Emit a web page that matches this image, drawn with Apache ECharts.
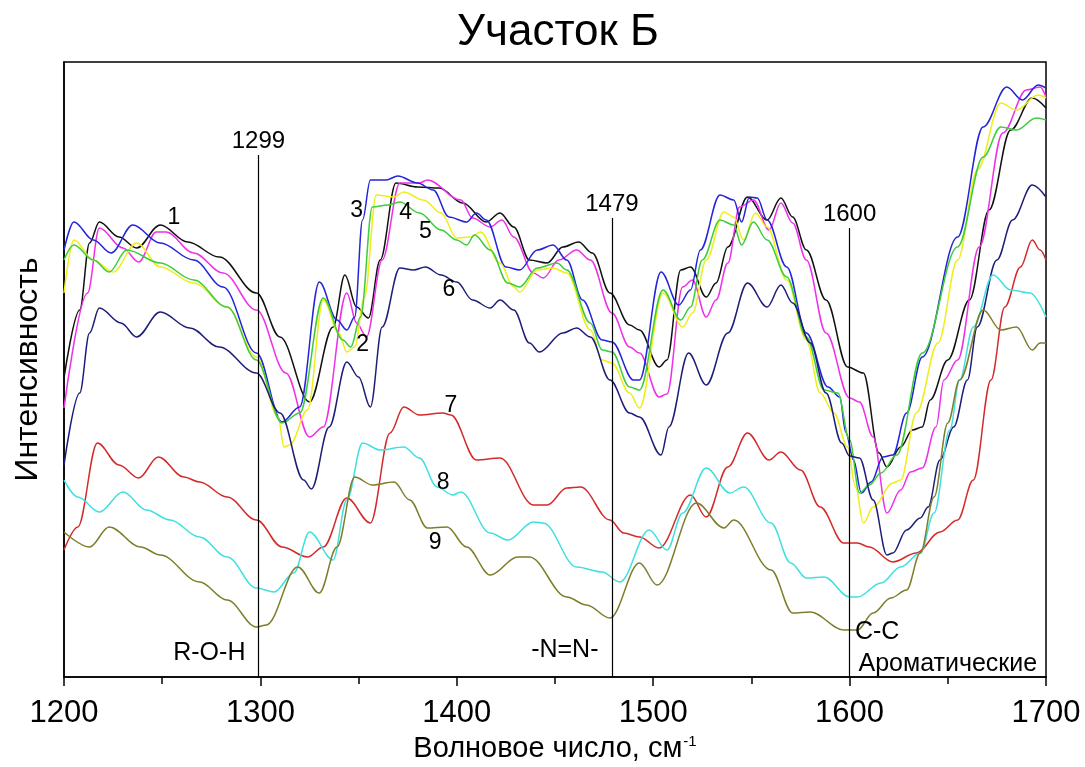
<!DOCTYPE html>
<html>
<head>
<meta charset="utf-8">
<script src="https://cdn.jsdelivr.net/npm/echarts@6/dist/echarts.min.js"></script>
<style>
  html, body { margin: 0; padding: 0; background: #fff; }
  #chart { width: 1085px; height: 767px; }
</style>
</head>
<body>
<div id="chart"></div>
<script>
// spectra: [wavenumber, intensity (a.u.)]
const s1 = [[1200,299],[1208,367],[1213,434],[1218,455],[1228,440],[1237,429],[1249,452],[1263,435],[1279,420],[1298,384],[1310,340],[1325,275],[1337,350],[1343,402],[1349,370],[1355,359],[1361,417],[1369,494],[1380,490],[1391,489],[1403,474],[1415,455],[1422,464],[1429,450],[1437,417],[1446,414],[1454,430],[1462,435],[1469,424],[1478,384],[1488,352],[1493,347],[1503,310],[1507,317],[1514,407],[1519,410],[1527,380],[1532,394],[1538,430],[1548,480],[1558,457],[1565,479],[1571,460],[1578,427],[1588,377],[1599,310],[1607,304],[1615,224],[1619,210],[1626,230],[1632,247],[1637,250],[1641,277],[1650,317],[1661,377],[1671,467],[1682,547],[1693,579],[1700,569]];
const s2 = [[1200,269],[1212,384],[1218,449],[1230,429],[1238,415],[1247,445],[1252,445],[1266,424],[1281,404],[1298,367],[1313,304],[1325,240],[1332,250],[1344,384],[1349,354],[1354,340],[1362,417],[1371,494],[1381,494],[1385,497],[1402,477],[1408,459],[1417,450],[1423,457],[1429,440],[1439,404],[1444,399],[1452,417],[1461,427],[1468,417],[1479,364],[1488,330],[1493,324],[1503,280],[1507,283],[1515,390],[1520,397],[1527,360],[1532,377],[1538,414],[1544,470],[1551,477],[1559,447],[1565,474],[1571,454],[1578,417],[1588,344],[1600,279],[1605,275],[1612,240],[1619,164],[1626,187],[1631,205],[1637,209],[1644,250],[1648,297],[1655,317],[1666,430],[1678,544],[1690,587],[1697,590],[1700,580]];
const s3 = [[1200,427],[1205,455],[1215,437],[1224,424],[1235,452],[1249,434],[1266,417],[1281,390],[1298,324],[1311,255],[1320,270],[1330,395],[1339,357],[1344,347],[1348,360],[1352,457],[1356,497],[1364,497],[1370,501],[1380,494],[1388,487],[1396,460],[1405,455],[1410,464],[1415,457],[1425,410],[1432,407],[1441,427],[1449,432],[1456,417],[1464,377],[1474,337],[1479,335],[1490,297],[1493,297],[1504,405],[1513,372],[1519,387],[1524,427],[1534,482],[1541,477],[1545,455],[1549,480],[1553,479],[1558,457],[1568,410],[1578,344],[1589,290],[1595,280],[1598,245],[1602,217],[1606,184],[1611,195],[1617,220],[1622,222],[1629,264],[1637,320],[1655,440],[1668,550],[1680,590],[1688,577],[1696,592],[1700,589]];
const s4 = [[1200,384],[1205,437],[1215,417],[1225,405],[1237,434],[1249,410],[1266,394],[1283,370],[1298,320],[1309,260],[1312,230],[1315,232],[1324,267],[1332,377],[1340,344],[1344,325],[1348,330],[1353,380],[1359,482],[1368,480],[1373,485],[1383,477],[1392,464],[1400,439],[1407,440],[1412,445],[1422,414],[1429,390],[1432,385],[1441,407],[1449,409],[1456,404],[1468,347],[1474,317],[1479,314],[1488,284],[1493,269],[1505,384],[1515,350],[1520,364],[1527,417],[1536,465],[1541,460],[1546,437],[1552,464],[1558,450],[1568,397],[1578,337],[1585,284],[1592,264],[1599,230],[1603,190],[1607,154],[1612,170],[1622,194],[1626,197],[1634,264],[1645,334],[1655,417],[1665,507],[1677,574],[1685,567],[1696,582],[1700,579]];
const s5 = [[1200,417],[1205,432],[1215,417],[1223,405],[1232,427],[1249,414],[1266,397],[1283,370],[1298,317],[1311,254],[1320,264],[1332,379],[1342,337],[1346,330],[1351,360],[1357,470],[1365,472],[1371,475],[1381,464],[1392,447],[1400,437],[1405,432],[1409,442],[1417,427],[1426,394],[1432,390],[1441,409],[1451,414],[1456,407],[1468,354],[1474,327],[1479,325],[1488,290],[1493,287],[1505,387],[1514,357],[1519,370],[1525,417],[1534,457],[1541,452],[1545,432],[1551,455],[1558,437],[1568,400],[1578,340],[1587,287],[1594,284],[1600,237],[1605,184],[1610,192],[1616,204],[1624,222],[1637,324],[1655,430],[1668,520],[1677,550],[1685,547],[1695,559],[1700,557]];
const s6 = [[1200,212],[1208,284],[1213,344],[1218,369],[1229,354],[1237,340],[1249,365],[1264,349],[1279,330],[1298,304],[1310,264],[1322,197],[1326,188],[1335,250],[1344,315],[1350,300],[1356,270],[1362,350],[1371,409],[1378,407],[1384,410],[1392,402],[1400,395],[1408,377],[1417,369],[1422,377],[1429,367],[1437,334],[1442,325],[1454,344],[1461,349],[1468,340],[1478,297],[1488,264],[1493,260],[1504,222],[1508,250],[1518,324],[1527,292],[1538,344],[1548,394],[1558,370],[1565,392],[1571,374],[1580,334],[1588,284],[1596,234],[1600,221],[1605,219],[1612,177],[1619,122],[1622,124],[1629,147],[1636,159],[1640,170],[1646,217],[1653,250],[1660,297],[1665,350],[1675,417],[1683,457],[1693,492],[1700,480]];
const s7 = [[1200,127],[1207,150],[1217,234],[1228,212],[1238,199],[1248,220],[1261,200],[1269,195],[1283,180],[1298,157],[1311,130],[1324,120],[1332,130],[1344,179],[1356,154],[1366,244],[1373,270],[1381,262],[1393,264],[1397,262],[1410,217],[1422,219],[1439,172],[1446,172],[1456,189],[1463,190],[1478,157],[1485,144],[1493,140],[1503,129],[1519,182],[1527,160],[1538,210],[1548,244],[1559,217],[1565,225],[1575,207],[1585,170],[1597,134],[1604,134],[1610,130],[1622,115],[1634,124],[1646,145],[1655,157],[1663,197],[1672,297],[1679,370],[1687,410],[1693,437],[1697,427],[1700,417]];
const s8 = [[1200,197],[1207,180],[1218,165],[1230,185],[1242,167],[1254,157],[1269,140],[1283,120],[1298,89],[1307,85],[1317,104],[1325,145],[1337,117],[1344,177],[1352,234],[1361,227],[1373,230],[1381,219],[1390,190],[1398,182],[1402,185],[1417,144],[1426,137],[1439,155],[1444,154],[1461,110],[1474,105],[1483,95],[1498,147],[1507,127],[1515,164],[1527,209],[1539,184],[1546,190],[1560,154],[1570,114],[1578,99],[1587,100],[1600,80],[1604,80],[1616,94],[1626,110],[1636,124],[1643,164],[1651,247],[1656,297],[1663,350],[1673,402],[1682,387],[1692,384],[1700,360]];
const s9 = [[1200,145],[1213,130],[1223,150],[1239,130],[1249,122],[1269,95],[1283,77],[1298,50],[1303,52],[1319,110],[1330,84],[1339,130],[1348,200],[1357,192],[1368,195],[1376,177],[1385,149],[1395,150],[1405,130],[1417,102],[1431,120],[1437,120],[1456,80],[1466,72],[1478,59],[1493,114],[1502,92],[1522,174],[1536,149],[1541,157],[1560,107],[1571,64],[1580,65],[1597,47],[1604,47],[1612,64],[1621,79],[1629,87],[1636,124],[1643,180],[1650,254],[1656,297],[1668,367],[1677,347],[1685,350],[1693,327],[1697,334],[1700,334]];

const spectra = [s1, s2, s3, s4, s5, s6, s7, s8, s9];
const colors = ['#111111', '#ee30e8', '#2424d8', '#eeee1c', '#3ccc3c', '#1e1e78', '#d42a2a', '#40e0e0', '#7d7d2a'];

// curve numbers
const numText = ['1', '2', '3', '4', '5', '6', '7', '8', '9'];
const numPos = [[1256,459],[1352,332],[1349,466],[1374,464],[1384,445],[1396,387],[1397,271],[1393,194],[1389,134]];

// marked wavenumbers
const peaks = [1299, 1479, 1600];
const peakTop = [522, 459, 449];

// group notes
const noteText = ['R-O-H', '-N=N-', 'C-C', 'Ароматические'];
const notePos = [[1274,23],[1455,26],[1614,44],[1650,12]];

const xTicks = [1200, 1300, 1400, 1500, 1600, 1700];

const FONT = '"Liberation Sans", Arial, sans-serif';

const series = spectra.map((d, i) => ({
  name: numText[i],
  type: 'line',
  data: d,
  smooth: 0.35,
  smoothMonotone: 'x',
  symbol: 'none',
  z: 3,
  lineStyle: { color: colors[i], width: 1.5 }
}));

series.push({
  type: 'line',
  data: [],
  markLine: {
    silent: true,
    symbol: 'none',
    lineStyle: { color: '#000', width: 1.2, type: 'solid' },
    label: {
      show: true,
      position: 'end',
      distance: 2,
      color: '#000',
      fontFamily: FONT,
      fontSize: 24,
      formatter: p => String(p.data.coord[0])
    },
    data: peaks.map((p, i) => [{ coord: [p, 0] }, { coord: [p, peakTop[i]] }])
  }
});

series.push({
  type: 'scatter',
  symbol: 'circle',
  symbolSize: 1,
  itemStyle: { color: 'rgba(0,0,0,0)' },
  z: 5,
  label: {
    show: true,
    position: 'top',
    distance: 0,
    align: 'center',
    verticalAlign: 'middle',
    color: '#000',
    opacity: 1,
    fontFamily: FONT,
    fontSize: 23,
    formatter: p => p.name
  },
  data: numPos.map((p, i) => ({ name: numText[i], value: p }))
    .concat(notePos.map((p, i) => ({ name: noteText[i], value: p, label: { fontSize: 25 } })))
});

const option = {
  animation: false,
  backgroundColor: '#fff',
  title: {
    text: 'Участок Б',
    left: 553,
    top: 6,
    textAlign: 'center',
    textStyle: { fontFamily: FONT, fontSize: 44, fontWeight: 'normal', color: '#000' }
  },
  grid: {
    left: 64, right: 39, top: 62, bottom: 90,
    outerBoundsMode: 'none',
    containLabel: false,
    show: true, borderColor: '#000', borderWidth: 1.5
  },
  xAxis: {
    type: 'value',
    min: 1200, max: 1700, interval: 100,
    name: '{a|Волновое число, см}{b|-1}',
    nameLocation: 'middle',
    nameGap: 56,
    nameTextStyle: {
      rich: {
        a: { fontFamily: FONT, fontSize: 29, color: '#000' },
        b: { fontFamily: FONT, fontSize: 15, color: '#000', verticalAlign: 'top', padding: [0, 0, 16, 1] }
      }
    },
    axisLine: { show: true, lineStyle: { color: '#000', width: 1.5 } },
    axisTick: { show: true, inside: false, length: 9, lineStyle: { color: '#000', width: 1.5 } },
    minorTick: { show: true, splitNumber: 2, length: 7, lineStyle: { color: '#000', width: 1.5 } },
    axisLabel: {
      margin: 21, color: '#000', fontFamily: FONT, fontSize: 31,
      formatter: v => xTicks.includes(v) ? String(v) : ''
    },
    splitLine: { show: false }
  },
  yAxis: {
    type: 'value',
    min: 0, max: 615,
    name: 'Интенсивность',
    nameLocation: 'middle',
    nameGap: 20,
    nameRotate: 90,
    nameTextStyle: { fontFamily: FONT, fontSize: 32, color: '#000' },
    axisLine: { show: true, lineStyle: { color: '#000', width: 1.5 } },
    axisTick: { show: false },
    axisLabel: { show: false },
    splitLine: { show: false }
  },
  series: series
};

const chart = echarts.init(document.getElementById('chart'), null, { renderer: 'canvas' });
chart.setOption(option);
</script>
</body>
</html>
